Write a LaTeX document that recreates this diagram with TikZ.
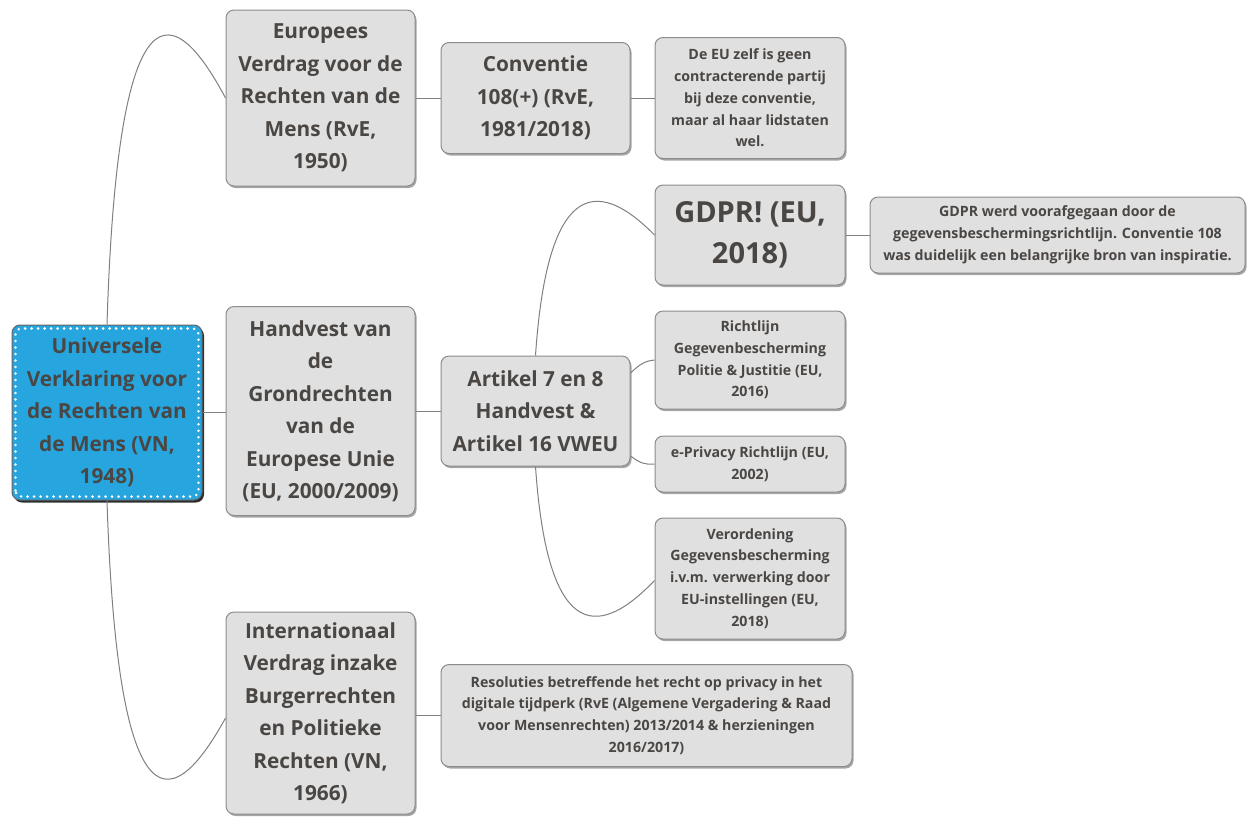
\documentclass[tikz,border=0pt]{standalone}
\usepackage{fontspec}
\setmainfont{Open Sans}
\usetikzlibrary{shadows,calc}
\definecolor{txt}{HTML}{4A4643}
\definecolor{boxfill}{HTML}{E0E0E0}
\definecolor{boxline}{HTML}{8C8C8C}
\definecolor{rootfill}{HTML}{27A5DE}
\definecolor{wire}{HTML}{808080}
\tikzset{
  box/.style={draw=boxline, fill=boxfill, rounded corners=8pt, line width=1pt, text=txt,
    align=center, inner sep=0pt,
    drop shadow={shadow xshift=1.5pt, shadow yshift=-2pt, fill=black, opacity=0.35}},
  big/.style={font=\fontsize{20.8}{32.5}\selectfont\bfseries},
  small/.style={font=\fontsize{14.2}{21.8}\selectfont\bfseries},
  huge/.style={font=\fontsize{29}{41}\selectfont\bfseries},
  wirest/.style={draw=wire, line width=1pt},
}
\begin{document}
\begin{tikzpicture}[x=1pt,y=-1pt]
\fill[white] (0,0) rectangle (1248,820);
\useasboundingbox (0,0) rectangle (1248,820);

% root
\node[box, big, fill=rootfill, draw=black!60, minimum width=190pt, minimum height=175pt,
  drop shadow={shadow xshift=2pt, shadow yshift=-2.5pt, fill=black, opacity=0.75}]
  (root) at (107,412.5) {Universele\\Verklaring voor\\de Rechten van\\de Mens (VN,\\1948)};
\draw[white, line width=2.8pt, dash pattern=on 0pt off 6.5pt, line cap=round, rounded corners=6pt]
  ($(root.south west)+(4,-4)$) rectangle ($(root.north east)+(-4,4)$);

% level 1
\node[box, big, minimum width=189pt, minimum height=176pt] (eur) at (320.5,98)
  {Europees\\Verdrag voor de\\Rechten van de\\Mens (RvE,\\1950)};
\node[box, big, minimum width=189pt, minimum height=209pt] (hand) at (320.5,411)
  {Handvest van\\de\\Grondrechten\\van de\\Europese Unie\\(EU, 2000/2009)};
\node[box, big, minimum width=189pt, minimum height=202pt] (intl) at (320.5,713)
  {Internationaal\\Verdrag inzake\\Burgerrechten\\en Politieke\\Rechten (VN,\\1966)};

% level 2
\node[box, big, minimum width=189pt, minimum height=111pt] (conv) at (535.5,98)
  {Conventie\\108(+) (RvE,\\1981/2018)};
\node[box, big, minimum width=189pt, minimum height=110pt] (art) at (535.5,411)
  {Artikel 7 en 8\\Handvest \&\\Artikel 16 VWEU};
\node[box, small, minimum width=411pt, minimum height=102pt] (reso) at (646.5,715.5)
  {Resoluties betreffende het recht op privacy in het\\digitale tijdperk (RvE (Algemene Vergadering \& Raad\\voor Mensenrechten) 2013/2014 \& herzieningen\\2016/2017)};

% level 3
\node[box, small, minimum width=190pt, minimum height=121pt] (eu) at (750,98)
  {De EU zelf is geen\\contracterende partij\\bij deze conventie,\\maar al haar lidstaten\\wel.};
\node[box, huge, minimum width=190pt, minimum height=100pt] (gdpr) at (750,235)
  {GDPR! (EU,\\2018)};
\node[box, small, minimum width=190pt, minimum height=98pt] (richt) at (750,360)
  {Richtlijn\\Gegevenbescherming\\Politie \& Justitie (EU,\\2016)};
\node[box, small, minimum width=190pt, minimum height=56pt] (epriv) at (750,464)
  {e-Privacy Richtlijn (EU,\\2002)};
\node[box, small, minimum width=190pt, minimum height=121pt] (veror) at (750,578.5)
  {Verordening\\Gegevensbescherming\\i.v.m. verwerking door\\EU-instellingen (EU,\\2018)};

% level 4
\node[box, small, minimum width=375pt, minimum height=76pt] (gnote) at (1057.5,235)
  {GDPR werd voorafgegaan door de\\gegevensbeschermingsrichtlijn. Conventie 108\\was duidelijk een belangrijke bron van inspiratie.};

% connectors
\draw[wirest] (root.north) .. controls (115.7,41.7) and (155.3,-34.3) .. (eur.west);
\draw[wirest] (root.south) .. controls (115.7,773.3) and (155.3,846) .. ($(intl.west)+(0,5)$);
\draw[wirest] (root.east) -- (root.east -| hand.west);
\draw[wirest] (eur.east) -- (eur.east -| conv.west);
\draw[wirest] (conv.east) -- (conv.east -| eu.west);
\draw[wirest] (hand.east) -- (hand.east -| art.west);
\draw[wirest] ($(intl.east)+(0,2.5)$) -- (reso.west);
\draw[wirest] (art.north) .. controls (545.7,205) and (585,164.3) .. (gdpr.west);
\draw[wirest] (art.south) .. controls (545.7,615) and (585,653.3) .. ($(veror.west)+(0,2)$);
\draw[wirest] ($(art.east)+(0,-38)$) .. controls (640,364) and (645,361) .. (richt.west);
\draw[wirest] ($(art.east)+(0,45)$) .. controls (640,463) and (645,465) .. (epriv.west);
\draw[wirest] (gdpr.east) -- (gnote.west);
\end{tikzpicture}
\end{document}
